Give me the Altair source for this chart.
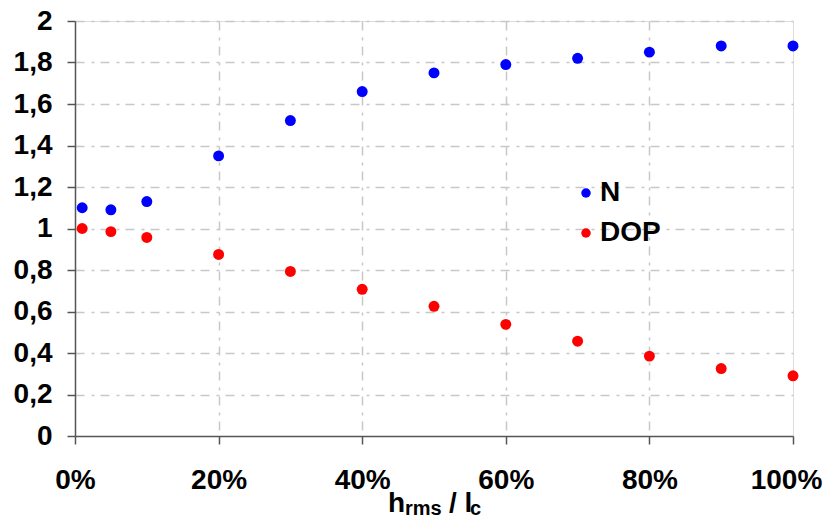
import altair as alt
import pandas as pd

x_vals = [0.01, 0.05, 0.10, 0.20, 0.30, 0.40, 0.50, 0.60, 0.70, 0.80, 0.90, 1.00]
n_vals = [1.10, 1.09, 1.13, 1.35, 1.52, 1.66, 1.75, 1.79, 1.82, 1.85, 1.88, 1.88]
dop_vals = [1.00, 0.985, 0.957, 0.875, 0.793, 0.707, 0.625, 0.538, 0.457, 0.385, 0.325, 0.29]
series = ["N", "DOP"]
colors = ["#0000ff", "#ff0000"]

rows = []
for xv, nv in zip(x_vals, n_vals):
    rows.append({"x": xv, "y": nv, "s": "N"})
for xv, dv in zip(x_vals, dop_vals):
    rows.append({"x": xv, "y": dv, "s": "DOP"})
df = pd.DataFrame(rows)

FONT = "Liberation Sans"
LBL = 28
grid_dash = [9, 7, 3, 6]

points = alt.Chart(df).mark_point(filled=True, size=120, opacity=1).encode(
    x=alt.X("x:Q", scale=alt.Scale(domain=[0, 1], nice=False),
            axis=alt.Axis(values=[0, 0.2, 0.4, 0.6, 0.8, 1.0], format=".0%", title=None,
                          labelFontSize=LBL, labelFontWeight="bold", labelFont=FONT, labelColor="#000",
                          labelFlush=False, labelOverlap=False,
                          labelOffset={"condition": {"test": "datum.value >= 0.99", "value": -7}, "value": 0},
                          labelPadding=22, tickSize=8, tickColor="#555", tickWidth=1.5,
                          domainColor="#555", domainWidth=1.5,
                          grid=True, gridColor="#c8c8c8", gridDash=grid_dash, gridWidth=1.5,
                          gridOpacity={"condition": {"test": "datum.value >= 0.99 || datum.value <= 0.01", "value": 0}, "value": 1})),
    y=alt.Y("y:Q", scale=alt.Scale(domain=[0, 2], nice=False),
            axis=alt.Axis(values=[0, 0.2, 0.4, 0.6, 0.8, 1.0, 1.2, 1.4, 1.6, 1.8, 2.0],
                          labelExpr="replace(format(datum.value, '~g'), '.', ',')", title=None,
                          labelFontSize=LBL, labelFontWeight="bold", labelFont=FONT, labelColor="#000",
                          labelFlush=False, labelOverlap=False,
                          labelPadding=15, tickSize=8, tickColor="#555", tickWidth=1.5,
                          domainColor="#555", domainWidth=1.5,
                          grid=True, gridColor="#c8c8c8", gridDash=grid_dash, gridWidth=1.5,
                          gridOpacity={"condition": {"test": "datum.value <= 0.01", "value": 0}, "value": 1})),
    color=alt.Color("s:N", scale=alt.Scale(domain=series, range=colors),
                    legend=alt.Legend(title=None, orient="none", legendX=497, legendY=158,
                                      symbolType="circle", symbolSize=90, symbolOpacity=1,
                                      labelFontSize=LBL, labelFontWeight="bold", labelFont=FONT,
                                      labelColor="#000", labelOffset=0, rowPadding=12, padding=0)),
)

def txt(s, x, y, size):
    return alt.Chart(pd.DataFrame({"t": [s]})).mark_text(
        align="left", baseline="alphabetic", font=FONT, fontSize=size, fontWeight="bold", color="#000"
    ).encode(text="t:N", x=alt.value(x), y=alt.value(y))

title = txt("h", 313, 491, 28) + txt("rms", 330, 494, 20) + txt("/ l", 374, 491, 28) + txt("c", 395, 494, 20)

chart = alt.layer(points, title).properties(
    width=718, height=415,
    autosize=alt.AutoSizeParams(type="none"),
    padding={"left": 67, "top": 13, "right": 30, "bottom": 80},
).configure_view(stroke=None).configure(background="white")

chart.save("out.html", embed_options={"renderer": "svg", "actions": False})
